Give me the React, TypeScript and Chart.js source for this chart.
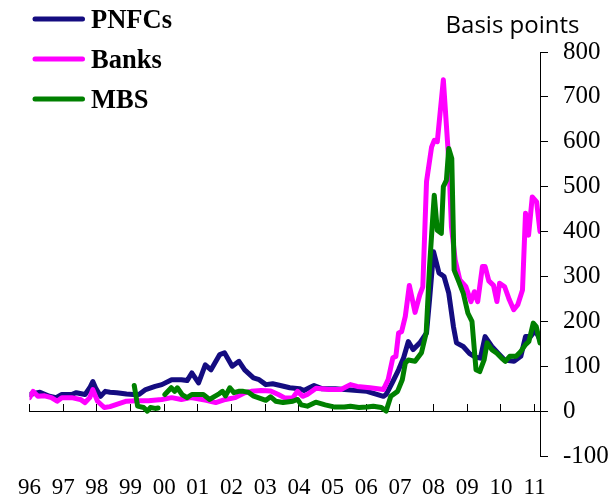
import React, { useEffect, useRef } from 'react';
import { Chart, registerables } from 'chart.js';

Chart.register(...registerables);

// ---- Data ----
const xTickLabels = ['96', '97', '98', '99', '00', '01', '02', '03', '04', '05', '06', '07', '08', '09', '10', '11'];
const firstYear = 1996;
const lastDate = 2011.16;
const yMin = -100;
const yMax = 800;
const yStep = 100;
const unitLabel = 'Basis points';

const pnfcDates = [
  1996.0, 1996.31, 1996.59, 1996.79, 1996.96, 1997.25, 1997.39, 1997.65, 1997.79, 1997.88, 1997.96,
  1998.11, 1998.25, 1998.39, 1998.59, 1998.88, 1999.08, 1999.25, 1999.45, 1999.73, 1999.93,
  2000.22, 2000.51, 2000.68, 2000.82, 2001.02, 2001.22, 2001.39, 2001.65, 2001.79,
  2002.02, 2002.22, 2002.39, 2002.65, 2002.82, 2003.02, 2003.22, 2003.45, 2003.73,
  2004.02, 2004.15, 2004.31, 2004.45, 2004.68, 2005.08, 2005.36, 2005.73, 2006.02,
  2006.51, 2006.59, 2006.79, 2006.96, 2007.11, 2007.25, 2007.39, 2007.59, 2007.79, 2007.88,
  2008.0, 2008.16, 2008.31, 2008.45, 2008.59, 2008.68, 2008.88, 2009.07, 2009.25, 2009.39,
  2009.53, 2009.73, 2009.93, 2010.11, 2010.39, 2010.59, 2010.73, 2010.88, 2011.02, 2011.16,
];
const pnfcValues = [
  37, 42, 33, 30, 37, 37, 41, 37, 52, 66, 52,
  33, 44, 42, 41, 38, 37, 37, 48, 55, 59,
  70, 70, 68, 85, 63, 103, 92, 126, 130,
  100, 111, 92, 74, 70, 59, 61, 57, 52,
  50, 46, 52, 57, 50, 50, 48, 46, 44,
  33, 37, 66, 92, 119, 155, 137, 152, 174, 248,
  355, 308, 300, 263, 188, 152, 144, 128, 120, 118,
  166, 144, 128, 114, 111, 122, 166, 166, 180, 159,
];

const banksDates = [
  1996.0, 1996.11, 1996.25, 1996.45, 1996.65, 1996.82, 1996.96, 1997.25, 1997.51, 1997.65, 1997.79, 1997.88,
  1998.02, 1998.22, 1998.39, 1998.59, 1998.88, 1999.16, 1999.53, 1999.93,
  2000.22, 2000.51, 2000.79, 2000.96, 2001.25, 2001.53, 2001.82, 2002.11, 2002.39, 2002.59, 2002.88,
  2003.16, 2003.39, 2003.59, 2003.82, 2003.96, 2004.11, 2004.25, 2004.51, 2004.88,
  2005.25, 2005.53, 2005.73, 2006.11, 2006.51, 2006.65, 2006.79, 2006.88, 2006.96,
  2007.05, 2007.16, 2007.28, 2007.45, 2007.59, 2007.68, 2007.79, 2007.94,
  2008.02, 2008.11, 2008.29, 2008.45, 2008.53, 2008.64, 2008.78, 2008.96,
  2009.11, 2009.21, 2009.31, 2009.45, 2009.53, 2009.64, 2009.78, 2009.88, 2009.96,
  2010.11, 2010.25, 2010.38, 2010.5, 2010.64, 2010.73, 2010.82, 2010.93, 2011.06, 2011.16,
];
const banksValues = [
  30, 44, 33, 34, 30, 22, 30, 30, 26, 19, 30, 48,
  22, 8, 10, 15, 22, 23, 23, 26,
  30, 26, 30, 28, 24, 19, 26, 30, 41, 44, 46,
  45, 37, 29, 30, 44, 33, 37, 51, 48,
  48, 59, 55, 52, 48, 70, 119, 122, 174,
  177, 211, 280, 220, 259, 277, 511, 588,
  603, 600, 738, 559, 411, 337, 292, 277,
  244, 266, 244, 322, 322, 290, 280, 244, 285,
  277, 248, 226, 237, 270, 441, 392, 477, 466, 400,
];

const mbsDates = [
  1999.11, 1999.16, 1999.21, 1999.39, 1999.5, 1999.59, 1999.73, 1999.82, 1999.9,
  2000.02, 2000.21, 2000.31, 2000.39, 2000.53, 2000.68, 2000.82, 2001.02, 2001.16, 2001.35,
  2001.5, 2001.64, 2001.73, 2001.82, 2001.95, 2002.07, 2002.21, 2002.35, 2002.5, 2002.64, 2002.83,
  2003.02, 2003.16, 2003.31, 2003.53, 2003.82, 2003.96, 2004.07, 2004.25, 2004.5, 2004.78,
  2005.07, 2005.35, 2005.53, 2005.78, 2006.02, 2006.21, 2006.45, 2006.59, 2006.73, 2006.93,
  2007.07, 2007.16, 2007.25, 2007.45, 2007.64, 2007.78, 2007.88, 2007.97,
  2008.02, 2008.11, 2008.23, 2008.29, 2008.38, 2008.45, 2008.54, 2008.61, 2008.73, 2008.88,
  2009.02, 2009.14, 2009.26, 2009.37, 2009.5, 2009.59, 2009.73, 2009.88,
  2010.02, 2010.13, 2010.26, 2010.45, 2010.59, 2010.73, 2010.83, 2010.96, 2011.05, 2011.16,
];
const mbsValues = [
  57, 35, 11, 8, 0, 8, 6, 7, null,
  37, 52, 44, 52, 37, 30, 37, 37, 37, 26,
  33, 39, 44, 34, 52, 41, 44, 44, 42, 34, 29,
  24, 32, 22, 19, 22, 26, 14, 11, 20, 14,
  9, 9, 11, 8, 9, 11, 8, 0, 33, 44,
  70, 107, 114, 111, 130, 174, 322, 426,
  481, 403, 396, 500, 514, 585, 563, 314, 292, 263,
  218, 200, 92, 88, 114, 152, 137, 129,
  118, 111, 122, 122, 133, 148, 155, 196, 188, 152,
];

const seriesNames = ['PNFCs', 'Banks', 'MBS'];
const seriesColors = ['#140c80', '#ff00ff', '#008000'];

const toPoints = (dates: number[], values: (number | null)[]) =>
  dates.map((d, i) => ({ x: d, y: values[i] }));

const overlayPlugin = {
  id: 'overlay',
  afterDraw(chart: any) {
    const ctx = chart.ctx as CanvasRenderingContext2D;
    const area = chart.chartArea;
    ctx.save();
    chart.data.datasets.forEach((ds: any, i: number) => {
      const y = 19 + i * 40;
      ctx.strokeStyle = ds.borderColor;
      ctx.lineWidth = 5;
      ctx.lineCap = 'round';
      ctx.beginPath();
      ctx.moveTo(area.left + 5.5, y);
      ctx.lineTo(area.left + 53, y);
      ctx.stroke();
      ctx.fillStyle = '#000';
      ctx.font = 'bold 26.5px "Liberation Serif", "Times New Roman", serif';
      ctx.textAlign = 'left';
      ctx.textBaseline = 'alphabetic';
      ctx.fillText(ds.label, area.left + 61.5, y + 9.3);
    });
    ctx.fillStyle = '#000';
    ctx.font = '24px "Open Sans", sans-serif';
    ctx.textAlign = 'center';
    ctx.textBaseline = 'alphabetic';
    ctx.fillText(unitLabel, area.right - 27.5, area.top - 19);
    ctx.restore();
  },
};

export default function App() {
  const canvasRef = useRef<HTMLCanvasElement | null>(null);

  useEffect(() => {
    const canvas = canvasRef.current;
    if (!canvas) return;
    const dateSets = [pnfcDates, banksDates, mbsDates];
    const valueSets = [pnfcValues, banksValues, mbsValues];
    const chart = new Chart(canvas, {
      type: 'line',
      data: {
        datasets: seriesNames.map((name, i) => ({
          label: name,
          data: toPoints(dateSets[i], valueSets[i] as (number | null)[]),
          borderColor: seriesColors[i],
          backgroundColor: seriesColors[i],
          borderWidth: 5,
          pointRadius: 0,
          tension: 0,
          fill: false,
          spanGaps: false,
          borderJoinStyle: 'round',
          borderCapStyle: 'round',
          order: 2 - i,
          xAxisID: 'x',
          yAxisID: 'y',
        })),
      },
      options: {
        animation: false,
        responsive: false,
        layout: { autoPadding: false, padding: { top: 52, left: 9, right: 0, bottom: 0 } },
        plugins: {
          legend: { display: false },
          title: { display: false },
          tooltip: { enabled: false },
        },
        scales: {
          x: {
            type: 'linear',
            position: 'bottom',
            min: firstYear,
            max: lastDate,
            grid: { display: false, drawTicks: false },
            border: { display: false },
            ticks: {
              stepSize: 1,
              autoSkip: false,
              maxRotation: 0,
              includeBounds: false,
              padding: 18,
              color: '#000',
              font: { family: '"Liberation Serif", "Times New Roman", serif', size: 23 },
              callback: (v: any) => {
                const idx = Math.round(Number(v)) - firstYear;
                return Math.abs(Number(v) - Math.round(Number(v))) < 1e-6 ? xTickLabels[idx] ?? '' : '';
              },
            },
            afterFit: (s: any) => {
              s.height = 47;
            },
          },
          x0: {
            type: 'linear',
            position: { y: 0 } as any,
            min: firstYear,
            max: lastDate,
            ticks: { display: false, stepSize: 1, includeBounds: false, autoSkip: false },
            grid: { drawOnChartArea: false, drawTicks: true, tickLength: -8, color: '#000', lineWidth: 1 },
            border: { display: true, color: '#000', width: 1 },
          },
          y: {
            type: 'linear',
            position: 'right',
            min: yMin,
            max: yMax,
            ticks: {
              stepSize: yStep,
              padding: 15,
              color: '#000',
              font: { family: '"Liberation Serif", "Times New Roman", serif', size: 25 },
            },
            grid: { drawOnChartArea: false, drawTicks: true, tickLength: 8, color: '#000' },
            border: { display: true, color: '#000', width: 1 },
            afterFit: (s: any) => {
              s.width = 71;
            },
          },
        },
      } as any,
      plugins: [overlayPlugin],
    });
    return () => chart.destroy();
  }, []);

  return (
    <div style={{ position: 'absolute', left: 0, top: 0, width: 611, height: 503 }}>
      <canvas ref={canvasRef} width={611} height={503} />
    </div>
  );
}
